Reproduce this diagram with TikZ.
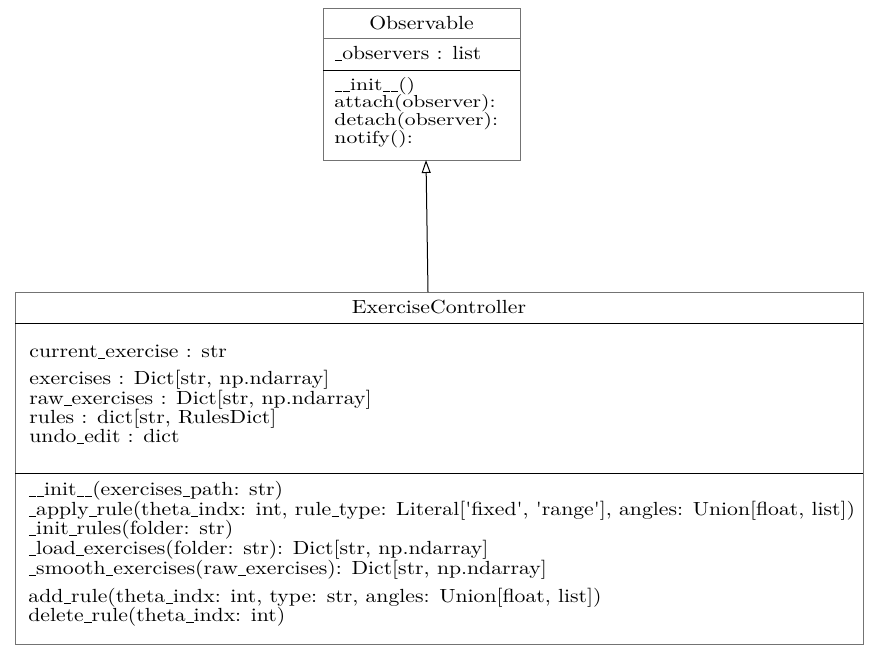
\documentclass[tikz,border=0pt]{standalone}
\usetikzlibrary{arrows.meta}
\newcommand{\us}{\kern.02em\rule[-0.12em]{0.34em}{0.07em}}
\newcommand{\sq}{\textquotesingle}
\tikzset{
  x=1pt,y=-1pt,
  boxline/.style={draw=black!55,line width=1pt},
  divline/.style={draw=black,line width=1pt},
  txt/.style={anchor=base west,inner sep=0pt,font=\fontsize{10}{12}\selectfont,xscale=2.17,yscale=1.9,transform shape},
  toptxt/.style={txt,yscale=1.74/1.9},
  ttl/.style={anchor=base,inner sep=0pt,font=\fontsize{10}{12}\selectfont,xscale=2.17,yscale=1.9,transform shape},
  inherit/.style={draw=black,line width=1pt,-{Triangle[open,length=13pt,width=9pt]}}
}
\begin{document}
\begin{tikzpicture}
\useasboundingbox (0,0) rectangle (886,665);
% Observable box
\node[boxline,minimum width=197pt,minimum height=152pt,inner sep=0pt,anchor=north west] (obs) at (323,8) {};
\draw[divline,draw=black!55] (323,38) -- (520,38);
\draw[divline] (323,70) -- (520,70);
\node[ttl] (obst) at (421.5,29) {Observable};
\node[txt] (oa1) at (334,59) {\us observers : list};
\node[toptxt] (om1) at (334,90) {\us\us init\us\us()};
\node[toptxt] (om2) at (334,107.8) {attach(observer):};
\node[toptxt] (om3) at (334,125.6) {detach(observer):};
\node[toptxt] (om4) at (334,143.4) {notify():};
% ExerciseController box
\node[boxline,minimum width=848pt,minimum height=352pt,inner sep=0pt,anchor=north west] (ec) at (15,292) {};
\draw[divline] (15,323) -- (863,323);
\draw[divline] (15,473) -- (863,473);
\node[ttl] (ect) at (439,313) {ExerciseController};
\node[txt] (a1) at (29,357) {current\us exercise : str};
\node[txt] (a2) at (29,384) {exercises : Dict[str, np.ndarray]};
\node[txt] (a3) at (29,404) {raw\us exercises : Dict[str, np.ndarray]};
\node[txt] (a4) at (29,423) {rules : dict[str, RulesDict]};
\node[txt] (a5) at (29,442) {undo\us edit : dict};
\node[txt] (m1) at (28,495) {\us\us init\us\us(exercises\us path: str)};
\node[txt] (m2) at (28,515) {\us apply\us rule(theta\us indx: int, rule\us type: Literal[\sq fixed\sq, \sq range\sq], angles: Union[float, list])};
\node[txt] (m3) at (28,534) {\us init\us rules(folder: str)};
\node[txt] (m4) at (28,554) {\us load\us exercises(folder: str): Dict[str, np.ndarray]};
\node[txt] (m5) at (28,574) {\us smooth\us exercises(raw\us exercises): Dict[str, np.ndarray]};
\node[txt] (m6) at (28,602) {add\us rule(theta\us indx: int, type: str, angles: Union[float, list])};
\node[txt] (m7) at (28,621) {delete\us rule(theta\us indx: int)};
\coordinate (src) at (428,292);
\coordinate (dst) at (426,160);
\draw[inherit] (src) -- (dst);
\end{tikzpicture}
\end{document}
